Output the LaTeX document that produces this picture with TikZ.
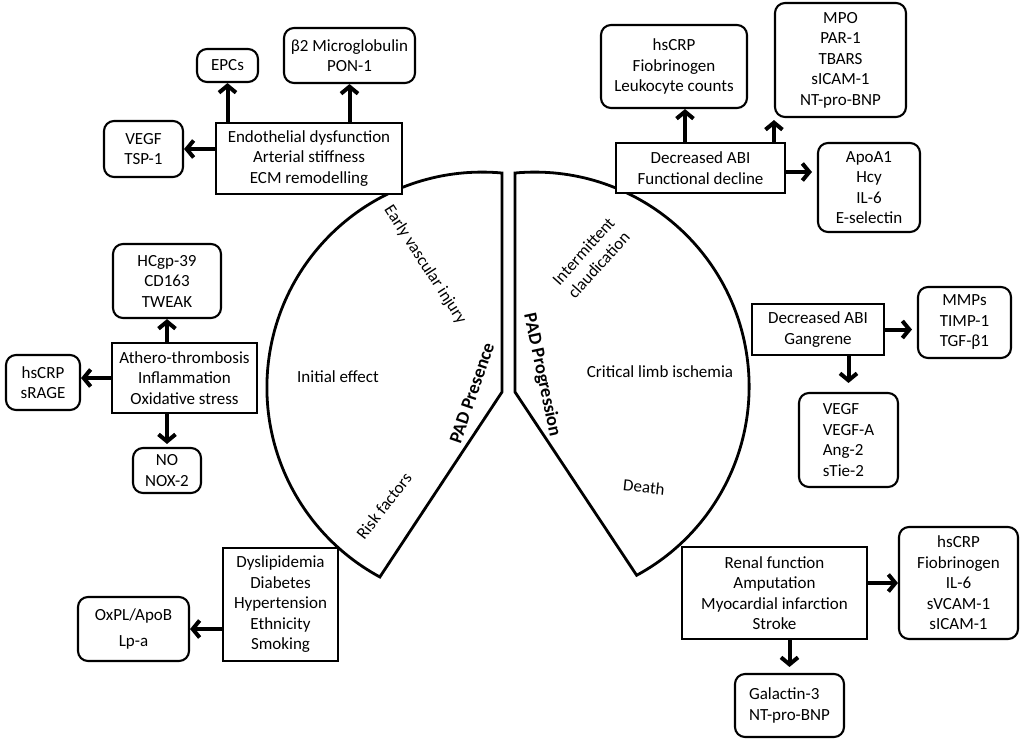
\documentclass[tikz,border=0pt]{standalone}
\usepackage{fontspec}
\setmainfont{Carlito}
\usetikzlibrary{arrows.meta,calc}
\begin{document}
\begin{tikzpicture}[x=1pt,y=-1pt]
\tikzset{
 txt/.style={font=\fontsize{17}{20.5}\selectfont, align=center, inner sep=2pt},
 sbox/.style={txt, draw, line width=1.9pt, fill=white},
 rbox/.style={txt, draw, line width=2.1pt, rounded corners=10pt, fill=white},
 arr/.style={line width=4pt, -{Straight Barb[length=7pt,width=17pt]}},
 sector/.style={draw, line width=2.8pt, line join=miter},
 lbl/.style={font=\fontsize{17}{20.5}\selectfont, align=center, inner sep=1pt},
 blbl/.style={font=\bfseries\fontsize{18.5}{22}\selectfont, inner sep=1pt},
}
\useasboundingbox (0,0) rectangle (1024,745);
\fill[white] (0,0) rectangle (1024,745);

% sectors
\draw[sector] (502,392) -- (502,173) arc[start angle=-84.75, end angle=-241.6, radius=215.4] -- cycle;
\draw[sector] (515,392) -- (515,173) arc[start angle=-95.25, end angle=61.6, radius=214.5] -- cycle;

% sector labels
\node[lbl, rotate=-57] (evi) at (425,265) {Early vascular injury};
\node[blbl, rotate=71] (padp) at (472,393) {PAD Presence};
\node[lbl] (ie) at (338,377) {Initial effect};
\node[lbl, rotate=52] (rf) at (384,506) {Risk factors};
\node[lbl, rotate=48] (ic) at (591,258) {Intermittent\\claudication};
\node[blbl, rotate=-78] (padg) at (542,375) {PAD Progression};
\node[lbl] (cli) at (660,372) {Critical limb ischemia};
\node[lbl, rotate=-6] (death) at (644,487) {Death};

% top-left group
\node[rbox, minimum width=61pt, minimum height=33pt] (epc) at (227.5,65.5) {EPCs};
\node[rbox, minimum width=131pt, minimum height=55pt] (b2m) at (349.5,55.5) {β2 Microglobulin\\PON-1};
\node[rbox, minimum width=79pt, minimum height=56pt] (vegfa) at (143.5,149) {VEGF\\TSP-1};
\node[sbox, minimum width=186pt, minimum height=71pt] (endo) at (309,158.5) {Endothelial dysfunction\\Arterial stiffness\\ECM remodelling};
\draw[arr] (endo.north -| epc.south) -- (epc.south);
\draw[arr] (endo.north -| b2m.south) -- (b2m.south);
\draw[arr] (endo.west |- vegfa.east) -- (vegfa.east);

% top-right group
\node[rbox, minimum width=146pt, minimum height=83pt] (hscrpa) at (674,66.5) {hsCRP\\Fiobrinogen\\Leukocyte counts};
\node[rbox, minimum width=131pt, minimum height=114pt] (mpo) at (840.5,60) {MPO\\PAR-1\\TBARS\\sICAM-1\\NT-pro-BNP};
\node[sbox, minimum width=169pt, minimum height=50pt] (abia) at (700.5,168) {Decreased ABI\\Functional decline};
\node[rbox, minimum width=102pt, minimum height=89pt] (apoa) at (869,187.5) {ApoA1\\Hcy\\IL-6\\E-selectin};
\draw[arr] ([xshift=-15.5pt]abia.north) -- ([xshift=-15.5pt]abia.north |- hscrpa.south);
\draw[arr, shorten >=2pt] (abia.north -| mpo.west) -- (mpo.south west);
\draw[arr, shorten >=5pt] ([yshift=-4pt]abia.east) -- ([yshift=-4pt]abia.east -| apoa.west);

% middle-left group
\node[rbox, minimum width=108pt, minimum height=74pt] (hcgp) at (167,281) {HCgp-39\\CD163\\TWEAK};
\node[sbox, minimum width=145pt, minimum height=70pt] (athero) at (184.5,378) {Athero-thrombosis\\Inflammation\\Oxidative stress};
\node[rbox, minimum width=74pt, minimum height=55pt] (hscrpb) at (43,382.5) {hsCRP\\sRAGE};
\node[rbox, minimum width=68pt, minimum height=45pt] (nox) at (167,470.5) {NO\\NOX-2};
\draw[arr] (athero.north -| hcgp.south) -- (hcgp.south);
\draw[arr] (athero.west) -- (athero.west -| hscrpb.east);
\draw[arr, shorten >=3pt] (athero.south -| nox.north) -- (nox.north);

% middle-right group
\node[sbox, minimum width=132pt, minimum height=51pt] (abib) at (818,329.5) {Decreased ABI\\Gangrene};
\node[rbox, minimum width=93pt, minimum height=71pt] (mmps) at (964.5,322.5) {MMPs\\TIMP-1\\TGF-β1};
\node[rbox, minimum width=99pt, minimum height=94pt, align=left] (vegfb) at (848.5,440) {VEGF\\VEGF-A\\Ang-2\\sTie-2};
\draw[arr, shorten >=5pt] (abib.east) -- (abib.east -| mmps.west);
\draw[arr, shorten >=9pt] (abib.south -| vegfb.north) -- (vegfb.north);

% bottom-left group
\node[rbox, minimum width=111pt, minimum height=64pt] (oxpl) at (133.5,629) {OxPL/ApoB\\[5pt]Lp-a};
\node[sbox, minimum width=115pt, minimum height=113pt] (dys) at (280.5,604.5) {Dyslipidemia\\Diabetes\\Hypertension\\Ethnicity\\Smoking};
\draw[arr] (dys.west |- oxpl.east) -- (oxpl.east);

% bottom-right group
\node[sbox, minimum width=185pt, minimum height=92pt] (renal) at (774.5,593) {Renal function\\Amputation\\Myocardial infarction\\Stroke};
\node[rbox, minimum width=119pt, minimum height=112pt] (hscrpc) at (958.5,583) {hsCRP\\Fiobrinogen\\IL-6\\sVCAM-1\\sICAM-1};
\node[rbox, minimum width=109pt, minimum height=63pt, align=left] (gal) at (789.5,705.5) {Galactin-3\\NT-pro-BNP};
\draw[arr] (renal.east |- hscrpc.west) -- (hscrpc.west);
\draw[arr, shorten >=6pt] (renal.south -| gal.north) -- (gal.north);
\end{tikzpicture}
\end{document}
